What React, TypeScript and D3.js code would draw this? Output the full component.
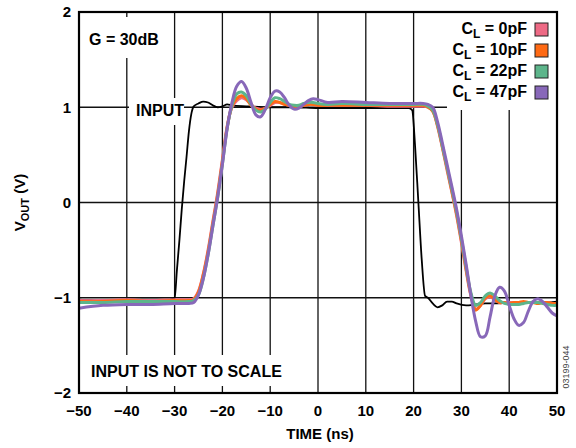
import React from "react";
import * as d3 from "d3";

const xTicks = [-50, -40, -30, -20, -10, 0, 10, 20, 30, 40, 50];
const yTicks = [-2, -1, 0, 1, 2];

const outTime = [-50, -45, -40, -35, -30, -27, -26, -25, -24, -23, -22, -21, -20, -19, -18, -17, -16, -15, -14, -13, -12, -11, -10, -9, -8, -7, -6, -5, -4, -3, -2, -1, 0, 2, 5, 10, 15, 20, 22, 23, 24, 25, 26, 27, 28, 29, 30, 31, 32, 33, 34, 35, 36, 37, 38, 39, 40, 41, 42, 43, 44, 45, 46, 47, 48, 49, 50];

const cl0 = [-1.03, -1.03, -1.02, -1.03, -1.02, -1.02, -1.01, -0.93, -0.75, -0.5, -0.2, 0.1, 0.45, 0.8, 1.0, 1.07, 1.1, 1.08, 1.03, 0.99, 0.98, 0.99, 1.02, 1.05, 1.05, 1.03, 1.02, 1.01, 1.01, 1.02, 1.03, 1.03, 1.02, 1.02, 1.02, 1.02, 1.01, 1.01, 1.01, 1.0, 0.96, 0.8, 0.58, 0.34, 0.11, -0.14, -0.42, -0.72, -0.98, -1.12, -1.08, -1.01, -0.99, -1.02, -1.05, -1.05, -1.05, -1.05, -1.05, -1.05, -1.05, -1.05, -1.05, -1.05, -1.05, -1.06, -1.06];
const cl10 = [-1.04, -1.04, -1.03, -1.04, -1.03, -1.03, -1.02, -0.94, -0.76, -0.52, -0.22, 0.08, 0.43, 0.79, 1.01, 1.09, 1.12, 1.09, 1.02, 0.98, 0.97, 0.99, 1.03, 1.06, 1.05, 1.03, 1.02, 1.01, 1.01, 1.02, 1.03, 1.03, 1.02, 1.02, 1.02, 1.02, 1.02, 1.02, 1.02, 1.0, 0.96, 0.81, 0.59, 0.36, 0.12, -0.12, -0.4, -0.7, -0.97, -1.13, -1.08, -1.0, -0.98, -1.02, -1.05, -1.05, -1.06, -1.05, -1.05, -1.04, -1.05, -1.05, -1.06, -1.05, -1.05, -1.06, -1.06];
const cl22 = [-1.05, -1.05, -1.04, -1.04, -1.04, -1.04, -1.03, -0.97, -0.8, -0.55, -0.25, 0.05, 0.4, 0.78, 1.02, 1.14, 1.16, 1.12, 1.03, 0.97, 0.95, 0.98, 1.05, 1.1, 1.09, 1.06, 1.03, 1.02, 1.02, 1.04, 1.05, 1.05, 1.04, 1.03, 1.04, 1.03, 1.03, 1.03, 1.03, 1.01, 0.97, 0.82, 0.6, 0.37, 0.14, -0.1, -0.38, -0.68, -0.95, -1.08, -1.05, -0.98, -0.95, -0.98, -1.03, -1.06, -1.07, -1.07, -1.07, -1.06, -1.05, -1.05, -1.05, -1.06, -1.07, -1.08, -1.08];
const cl47 = [-1.11, -1.08, -1.07, -1.07, -1.06, -1.06, -1.05, -0.97, -0.8, -0.55, -0.25, 0.05, 0.4, 0.78, 1.05, 1.22, 1.27, 1.2, 1.05, 0.92, 0.9, 0.98, 1.1, 1.17, 1.16, 1.1, 1.02, 0.98, 0.99, 1.03, 1.07, 1.09, 1.08, 1.05, 1.06, 1.05, 1.04, 1.04, 1.04, 1.03, 1.0, 0.85, 0.63, 0.4, 0.17, -0.07, -0.35, -0.65, -0.98, -1.25, -1.41, -1.4, -1.2, -0.98, -0.89, -0.93, -1.08, -1.22, -1.29, -1.26, -1.14, -1.04, -1.01, -1.04, -1.1, -1.16, -1.19];

const inTime = [-50, -45, -40, -35, -31, -30, -29.5, -29, -28.5, -28, -27.5, -27, -26.5, -26, -25, -24, -23, -22, -21, -20, -19, -18, -15, -10, -5, 0, 5, 10, 15, 19, 19.7, 20.3, 21, 21.7, 22.4, 23, 24, 25, 26, 27, 28, 29, 31, 33, 35, 37, 40, 43, 45, 47, 50];
const inVal = [-1.02, -1.03, -1.02, -1.02, -1.02, -1.0, -0.7, -0.4, -0.07, 0.22, 0.48, 0.75, 0.93, 1.01, 1.04, 1.06, 1.05, 1.02, 1.0, 1.01, 1.03, 1.02, 1.01, 1.0, 1.0, 0.99, 0.99, 0.99, 0.99, 0.99, 0.97, 0.6, 0.0, -0.6, -0.98, -1.0, -1.06, -1.1, -1.08, -1.04, -1.04, -1.06, -1.08, -1.07, -1.06, -1.06, -1.05, -1.05, -1.04, -1.05, -1.04];

const seriesNames = ["0pF", "10pF", "22pF", "47pF"];
const seriesColors = ["#ee6a85", "#ff6a14", "#5db58b", "#8868b9"];
const seriesValues = [cl0, cl10, cl22, cl47];

const W = 576;
const H = 448;
const L = 79, R = 557, T = 12, B = 393;
const FONT = "'Liberation Sans', Arial, Helvetica, sans-serif";

export default function App() {
  const x = d3.scaleLinear().domain([-50, 50]).range([L, R]);
  const y = d3.scaleLinear().domain([-2, 2]).range([B, T]);

  const outLine = d3
    .line<number>()
    .x((_, i) => x(outTime[i]))
    .y((d) => y(d))
    .curve(d3.curveCatmullRom.alpha(0.5));
  const inLine = d3
    .line<number>()
    .x((_, i) => x(inTime[i]))
    .y((d) => y(d))
    .curve(d3.curveMonotoneX);

  return (
    <svg
      width={W}
      height={H}
      style={{ position: "absolute", left: 0, top: 0, background: "#fff" }}
      fontFamily={FONT}
    >
      <rect x={0} y={0} width={W} height={H} fill="#fff" />
      {/* grid */}
      {xTicks.slice(1, -1).map((t) => (
        <line key={"gx" + t} x1={x(t)} x2={x(t)} y1={T} y2={B} stroke="#111" strokeWidth={1.3} />
      ))}
      {yTicks.slice(1, -1).map((t) => (
        <line key={"gy" + t} x1={L} x2={R} y1={y(t)} y2={y(t)} stroke="#111" strokeWidth={1.3} />
      ))}
      {/* label background boxes */}
      <rect x={84} y={17} width={81} height={41} fill="#fff" />
      <rect x={129} y={98} width={55} height={27} fill="#fff" />
      <rect x={85} y={355} width={205} height={31} fill="#fff" />
      <rect x={447} y={T} width={R - 447} height={98} fill="#fff" />
      {/* data */}
      <path d={inLine(inVal) || ""} fill="none" stroke="#000" strokeWidth={1.8} />
      {seriesValues.map((vals, i) => (
        <path
          key={"s" + i}
          d={outLine(vals) || ""}
          fill="none"
          stroke={seriesColors[i]}
          strokeWidth={3}
          strokeLinejoin="round"
        />
      ))}
      {/* frame */}
      <rect x={L} y={T} width={R - L} height={B - T} fill="none" stroke="#000" strokeWidth={2.2} />
      {/* tick labels */}
      {yTicks.map((t) => (
        <text
          key={"yl" + t}
          x={71}
          y={y(t)}
          dy="0.36em"
          textAnchor="end"
          fontSize={15}
          fontWeight="bold"
        >
          {t < 0 ? "\u2212" + Math.abs(t) : t}
        </text>
      ))}
      {xTicks.map((t) => (
        <text
          key={"xl" + t}
          x={x(t)}
          y={416}
          textAnchor="middle"
          fontSize={15}
          fontWeight="bold"
        >
          {t < 0 ? "\u2212" + Math.abs(t) : t}
        </text>
      ))}
      <text x={320} y={439} textAnchor="middle" fontSize={15} fontWeight="bold">
        TIME (ns)
      </text>
      <text
        transform={`translate(25, ${y(0)}) rotate(-90)`}
        textAnchor="middle"
        fontSize={15}
        fontWeight="bold"
      >
        V<tspan fontSize={11} dy={4}>OUT</tspan>
        <tspan dy={-4}> (V)</tspan>
      </text>
      <text x={89} y={45} fontSize={16} fontWeight="bold">
        G = 30dB
      </text>
      <text x={136} y={116} fontSize={16} fontWeight="bold">
        INPUT
      </text>
      <text x={91} y={377} fontSize={16} fontWeight="bold">
        INPUT IS NOT TO SCALE
      </text>
      {/* legend */}
      {seriesNames.map((n, i) => (
        <g key={"lg" + i}>
          <text x={527} y={34 + i * 21} textAnchor="end" fontSize={16} fontWeight="bold">
            C<tspan fontSize={12} dy={4}>L</tspan>
            <tspan dy={-4}>{" = " + n}</tspan>
          </text>
          <rect
            x={535}
            y={23 + i * 21}
            width={13}
            height={13}
            fill={seriesColors[i]}
            stroke="#222"
            strokeWidth={1}
          />
        </g>
      ))}
      <text
        transform="translate(569, 367) rotate(-90)"
        textAnchor="middle"
        fontSize={9}
        fill="#444"
      >
        03199-044
      </text>
    </svg>
  );
}
